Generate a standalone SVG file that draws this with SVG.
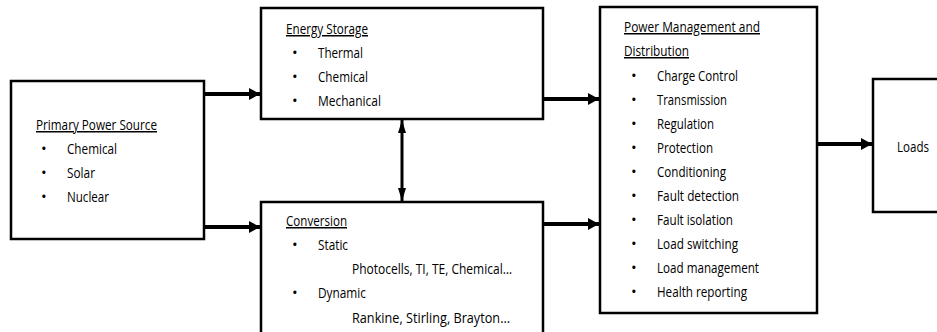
<svg xmlns="http://www.w3.org/2000/svg" width="937" height="332" viewBox="0 0 937 332">
  <style>
    .box { fill: #fff; stroke: #000; stroke-width: 2.5; }
    .t { font-family: "Open Sans", "Liberation Sans", sans-serif; font-size: 15px; fill: #000; }
    .u { text-decoration: underline; }
    .wire { stroke: #000; stroke-width: 4; fill: none; }
    .thin { stroke: #000; stroke-width: 3; fill: none; }
  </style>
  <defs>
    <marker id="head" viewBox="0 0 11 12" refX="11" refY="6" markerWidth="11" markerHeight="12" orient="auto-start-reverse" markerUnits="userSpaceOnUse">
      <path d="M0,0 L11,6 L0,12 Z" fill="#000"/>
    </marker>
    <marker id="headS" viewBox="0 0 13 8" refX="13" refY="4" markerWidth="13" markerHeight="8" orient="auto-start-reverse" markerUnits="userSpaceOnUse">
      <path d="M0,0 L13,4 L0,8 Z" fill="#000"/>
    </marker>
  </defs>

  <g id="connectors">
    <line class="wire" x1="205" y1="94" x2="260" y2="94" marker-end="url(#head)"/>
    <line class="wire" x1="205" y1="227" x2="260" y2="227" marker-end="url(#head)"/>
    <line class="wire" x1="544" y1="99" x2="599" y2="99" marker-end="url(#head)"/>
    <line class="wire" x1="544" y1="224" x2="599" y2="224" marker-end="url(#head)"/>
    <line class="wire" x1="818" y1="144" x2="872" y2="144" marker-end="url(#head)"/>
    <line class="thin" x1="402" y1="120" x2="402" y2="201" marker-start="url(#headS)" marker-end="url(#headS)"/>
  </g>

  <g id="primary-power-source">
    <rect class="box" x="11" y="81" width="193" height="158"/>
    <text class="t u" x="36" y="130" textLength="121" lengthAdjust="spacingAndGlyphs">Primary Power Source</text>
    <text class="t" x="41" y="154">•</text><text class="t" x="67" y="154" textLength="50" lengthAdjust="spacingAndGlyphs">Chemical</text>
    <text class="t" x="41" y="178">•</text><text class="t" x="67" y="178" textLength="28" lengthAdjust="spacingAndGlyphs">Solar</text>
    <text class="t" x="41" y="202">•</text><text class="t" x="67" y="202" textLength="42" lengthAdjust="spacingAndGlyphs">Nuclear</text>
  </g>

  <g id="energy-storage">
    <rect class="box" x="261" y="8" width="282" height="111"/>
    <text class="t u" x="286" y="34" textLength="82" lengthAdjust="spacingAndGlyphs">Energy Storage</text>
    <text class="t" x="292" y="58">•</text><text class="t" x="318" y="58" textLength="45" lengthAdjust="spacingAndGlyphs">Thermal</text>
    <text class="t" x="292" y="82">•</text><text class="t" x="318" y="82" textLength="50" lengthAdjust="spacingAndGlyphs">Chemical</text>
    <text class="t" x="292" y="106">•</text><text class="t" x="318" y="106" textLength="63" lengthAdjust="spacingAndGlyphs">Mechanical</text>
  </g>

  <g id="conversion">
    <rect class="box" x="261" y="202" width="282" height="140"/>
    <text class="t u" x="286" y="226" textLength="61" lengthAdjust="spacingAndGlyphs">Conversion</text>
    <text class="t" x="292" y="250">•</text><text class="t" x="318" y="250" textLength="30" lengthAdjust="spacingAndGlyphs">Static</text>
    <text class="t" x="352" y="274" textLength="160" lengthAdjust="spacingAndGlyphs">Photocells, TI, TE, Chemical…</text>
    <text class="t" x="292" y="298">•</text><text class="t" x="318" y="298" textLength="48" lengthAdjust="spacingAndGlyphs">Dynamic</text>
    <text class="t" x="352" y="323" textLength="158" lengthAdjust="spacingAndGlyphs">Rankine, Stirling, Brayton…</text>
  </g>

  <g id="power-management">
    <rect class="box" x="600" y="7" width="217" height="306"/>
    <text class="t u" x="624" y="32" textLength="136" lengthAdjust="spacingAndGlyphs">Power Management and</text>
    <text class="t u" x="624" y="56" textLength="65" lengthAdjust="spacingAndGlyphs">Distribution</text>
    <text class="t" x="631" y="81">•</text><text class="t" x="657" y="81" textLength="81" lengthAdjust="spacingAndGlyphs">Charge Control</text>
    <text class="t" x="631" y="105">•</text><text class="t" x="657" y="105" textLength="70" lengthAdjust="spacingAndGlyphs">Transmission</text>
    <text class="t" x="631" y="129">•</text><text class="t" x="657" y="129" textLength="57" lengthAdjust="spacingAndGlyphs">Regulation</text>
    <text class="t" x="631" y="153">•</text><text class="t" x="657" y="153" textLength="56" lengthAdjust="spacingAndGlyphs">Protection</text>
    <text class="t" x="631" y="177">•</text><text class="t" x="657" y="177" textLength="69" lengthAdjust="spacingAndGlyphs">Conditioning</text>
    <text class="t" x="631" y="201">•</text><text class="t" x="657" y="201" textLength="82" lengthAdjust="spacingAndGlyphs">Fault detection</text>
    <text class="t" x="631" y="225">•</text><text class="t" x="657" y="225" textLength="76" lengthAdjust="spacingAndGlyphs">Fault isolation</text>
    <text class="t" x="631" y="249">•</text><text class="t" x="657" y="249" textLength="81" lengthAdjust="spacingAndGlyphs">Load switching</text>
    <text class="t" x="631" y="273">•</text><text class="t" x="657" y="273" textLength="102" lengthAdjust="spacingAndGlyphs">Load management</text>
    <text class="t" x="631" y="297">•</text><text class="t" x="657" y="297" textLength="90" lengthAdjust="spacingAndGlyphs">Health reporting</text>
  </g>

  <g id="loads">
    <rect class="box" x="873" y="79" width="80" height="133"/>
    <text class="t" x="897" y="152" textLength="32" lengthAdjust="spacingAndGlyphs">Loads</text>
  </g>
</svg>
